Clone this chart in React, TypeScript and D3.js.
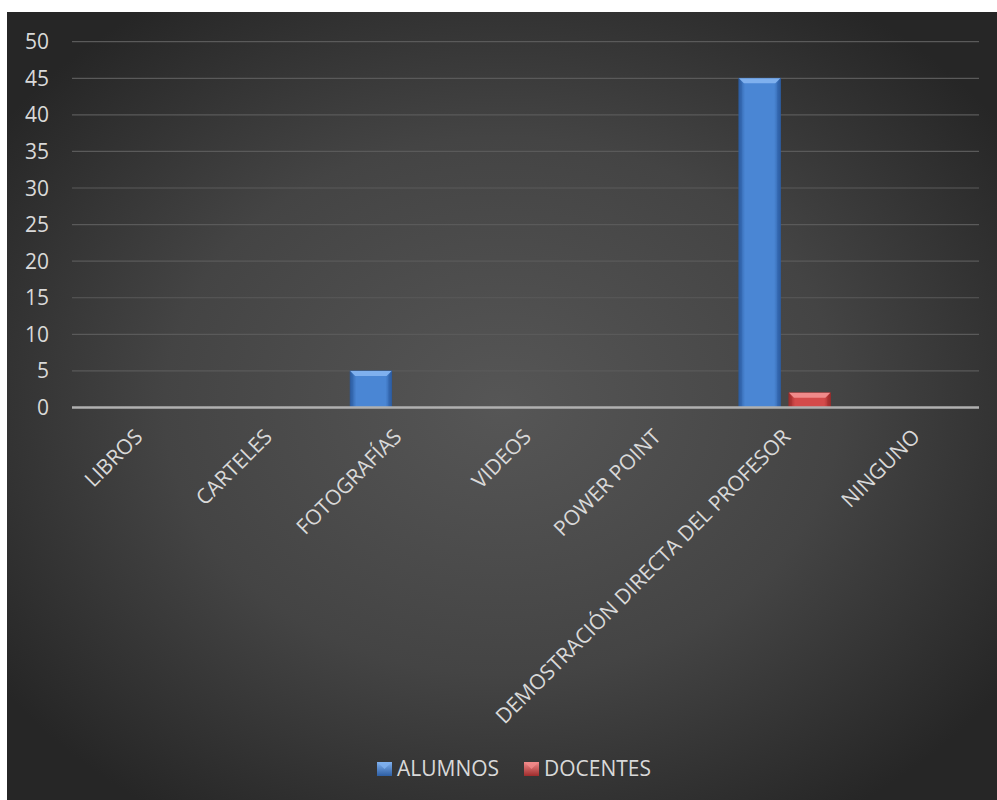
import React from "react";
import * as d3 from "d3";

const categories = [
  "LIBROS",
  "CARTELES",
  "FOTOGRAFÍAS",
  "VIDEOS",
  "POWER POINT",
  "DEMOSTRACIÓN DIRECTA DEL PROFESOR",
  "NINGUNO",
];
const alumnos = [0, 0, 5, 0, 0, 45, 0];
const docentes = [0, 0, 0, 0, 0, 2, 0];
const seriesNames = ["ALUMNOS", "DOCENTES"];
const yTicks = [0, 5, 10, 15, 20, 25, 30, 35, 40, 45, 50];

const W = 997;
const H = 800;
const FONT = "'Open Sans', 'Liberation Sans', sans-serif";

export default function App() {
  const plotL = 72;
  const plotR = 979;
  const x = d3.scaleBand<string>().domain(categories).range([plotL, plotR]).paddingInner(0).paddingOuter(0);
  const y = d3.scaleLinear().domain([0, 50]).range([407.5, 41.7]);
  const bw = x.bandwidth() * 0.32;
  const gap = x.bandwidth() * 0.066;

  const series = [
    { name: seriesNames[0], values: alumnos, id: "blue", light: "#7fb0ee", mid: "#4a86d4", dark: "#2d5ea3" },
    { name: seriesNames[1], values: docentes, id: "red", light: "#f08a8a", mid: "#d44a4a", dark: "#9e2c2c" },
  ];

  const bar = (s: typeof series[0], xl: number, v: number, key: string) => {
    if (v <= 0) return null;
    const top = y(v);
    const bot = y(0);
    const h = bot - top;
    const bev = Math.min(5, h / 2);
    const inset = 5;
    return (
      <g key={key}>
        <rect x={xl} y={top} width={bw} height={h} fill={`url(#g-${s.id})`} stroke={s.dark} strokeWidth={0.8} />
        <polygon
          points={`${xl},${top} ${xl + bw},${top} ${xl + bw - inset},${top + bev} ${xl + inset},${top + bev}`}
          fill={s.light}
        />
        <polygon
          points={`${xl},${top} ${xl + inset * 0.6},${top + bev} ${xl + inset * 0.6},${bot} ${xl},${bot}`}
          fill={s.dark}
          opacity={0.35}
        />
        <polygon
          points={`${xl + bw},${top} ${xl + bw - inset * 0.6},${top + bev} ${xl + bw - inset * 0.6},${bot} ${xl + bw},${bot}`}
          fill={s.dark}
          opacity={0.5}
        />
      </g>
    );
  };

  return (
    <svg width={W} height={H} style={{ position: "absolute", left: 0, top: 0 }}>
      <defs>
        <radialGradient id="bg" cx="0.5" cy="0.5" r="0.62">
          <stop offset="0" stopColor="#565656" />
          <stop offset="0.55" stopColor="#444444" />
          <stop offset="1" stopColor="#262626" />
        </radialGradient>
        {series.map((s) => (
          <linearGradient key={s.id} id={`g-${s.id}`} x1="0" x2="1" y1="0" y2="0">
            <stop offset="0" stopColor={s.dark} />
            <stop offset="0.15" stopColor={s.mid} />
            <stop offset="0.85" stopColor={s.mid} />
            <stop offset="1" stopColor={s.dark} />
          </linearGradient>
        ))}
        {series.map((s) => (
          <linearGradient key={s.id + "l"} id={`l-${s.id}`} x1="0" x2="0" y1="0" y2="1">
            <stop offset="0" stopColor={s.light} />
            <stop offset="1" stopColor={s.dark} />
          </linearGradient>
        ))}
      </defs>
      <rect x={7} y={12} width={W - 7} height={H - 12} fill="url(#bg)" />
      {yTicks.map((t) =>
        t === 0 ? null : (
          <line key={t} x1={plotL} x2={plotR} y1={y(t)} y2={y(t)} stroke="#5a5a5a" strokeWidth={1.2} />
        )
      )}
      {yTicks.map((t) => (
        <text
          key={"l" + t}
          x={49}
          y={y(t)}
          dy="0.36em"
          textAnchor="end"
          fontFamily={FONT}
          fontSize={21}
          fill="#d9d9d9"
        >
          {t}
        </text>
      ))}
      {categories.map((c, i) => {
        const x0 = x(c)!;
        const cx = x0 + x.bandwidth() / 2;
        return (
          <g key={c}>
            {bar(series[0], cx - gap / 2 - bw, alumnos[i], "a")}
            {bar(series[1], cx + gap / 2, docentes[i], "d")}
          </g>
        );
      })}
      <line x1={plotL} x2={plotR} y1={y(0)} y2={y(0)} stroke="#b0b0b0" strokeWidth={2.5} />
      {categories.map((c) => {
        const cx = x(c)! + x.bandwidth() / 2;
        const ax = cx + 7;
        const ay = 438;
        return (
          <text
            key={"x" + c}
            transform={`translate(${ax},${ay}) rotate(-45)`}
            textAnchor="end"
            fontFamily={FONT}
            fontSize={21}
            fill="#d9d9d9"
          >
            {c}
          </text>
        );
      })}
      {series.map((s, i) => {
        const lx = i === 0 ? 377 : 524;
        return (
          <g key={"leg" + s.id}>
            <rect x={lx} y={762} width={15} height={14} fill={`url(#l-${s.id})`} />
            <polygon points={`${lx},762 ${lx + 15},762 ${lx + 7.5},769`} fill={s.light} opacity={0.8} />
            <text x={lx + 20} y={776} fontFamily={FONT} fontSize={21} fill="#d9d9d9">
              {s.name}
            </text>
          </g>
        );
      })}
    </svg>
  );
}
